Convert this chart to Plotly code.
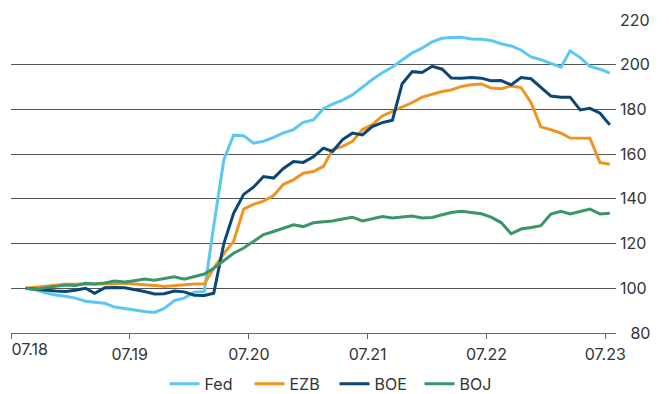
import pandas as pd
import plotly.graph_objects as go

# Monthly observations, index 100 at the start
dates = pd.date_range(start="2018-08-01", periods=60, freq="MS") + pd.Timedelta(days=14)

fed = [100.0, 99.2, 98.0, 97.0, 96.4, 95.6, 94.2, 93.8, 93.3, 91.6,
       90.9, 90.2, 89.6, 89.2, 91.0, 94.5, 95.6, 98.2, 98.6, 128.0,
       157.5, 168.5, 168.2, 164.9, 165.8, 167.5, 169.5, 171.0, 174.2, 175.3,
       180.3, 182.4, 184.2, 186.5, 190.1, 193.4, 196.4, 199.0, 202.1, 205.3,
       207.4, 210.2, 211.8, 212.2, 212.3, 211.5, 211.4, 210.8, 209.4, 208.4,
       206.6, 203.5, 202.3, 200.6, 198.9, 206.2, 203.2, 199.2, 198.0, 196.2]

ezb = [100.0, 100.5, 101.0, 101.3, 101.8, 101.8, 101.8, 101.8, 102.0, 102.0,
       102.2, 102.0, 101.8, 101.3, 100.8, 101.2, 101.6, 101.9, 102.0, 109.0,
       115.5, 121.0, 135.4, 137.5, 139.0, 141.5, 146.5, 148.5, 151.5, 152.2,
       154.5, 162.0, 163.5, 165.7, 171.0, 173.2, 177.1, 179.0, 181.0, 183.1,
       185.5, 186.9, 188.0, 188.7, 190.3, 191.0, 191.4, 189.6, 189.3, 190.5,
       189.8, 183.0, 172.2, 170.9, 169.4, 167.2, 167.1, 167.1, 156.2, 155.5]

boe = [100.0, 99.5, 99.1, 98.8, 98.6, 99.1, 100.0, 97.8, 100.2, 100.4,
       100.2, 99.5, 98.6, 97.5, 97.6, 98.8, 98.4, 96.9, 96.8, 97.8,
       120.0, 133.5, 142.0, 145.2, 150.0, 149.3, 153.6, 156.7, 156.3, 158.8,
       162.7, 161.2, 166.5, 169.4, 168.6, 172.3, 174.1, 175.2, 191.5, 196.9,
       196.5, 199.3, 198.0, 194.0, 193.9, 194.3, 194.0, 192.8, 192.9, 191.0,
       194.3, 193.7, 189.8, 186.0, 185.5, 185.5, 179.8, 180.5, 178.3, 173.1]

boj = [100.0, 99.5, 100.3, 101.0, 101.5, 101.3, 102.2, 101.9, 102.4, 103.3,
       102.8, 103.4, 104.1, 103.6, 104.5, 105.1, 104.1, 105.2, 106.4, 109.0,
       112.4, 115.7, 118.0, 121.0, 124.0, 125.4, 126.9, 128.4, 127.6, 129.3,
       129.8, 130.1, 131.0, 131.8, 130.1, 131.1, 132.1, 131.4, 131.8, 132.3,
       131.4, 131.7, 132.9, 133.9, 134.4, 133.9, 133.3, 131.8, 129.4, 124.4,
       126.5, 127.2, 128.0, 133.2, 134.4, 133.3, 134.4, 135.4, 133.2, 133.6]

series_names = ["Fed", "EZB", "BOE", "BOJ"]
series_values = [fed, ezb, boe, boj]
series_colors = ["#5bc8f2", "#ef951f", "#0b4675", "#3a9667"]

x_tick_dates = pd.date_range(start="2018-07-01", periods=6, freq="12MS")
x_tick_labels = ["07.18", "07.19", "07.20", "07.21", "07.22", "07.23"]
y_tick_values = [80, 100, 120, 140, 160, 180, 200, 220]

FS = "\u2007"  # figure space, right-aligns the shorter y labels
y_text = [(FS * (3 - len(str(v)))) + str(v) for v in y_tick_values]

x_range = ["2018-07-01", "2023-08-03"]
text_col = "#333333"
axis_col = "#666666"

fig = go.Figure()
for k, (name, vals, col) in enumerate(zip(series_names, series_values, series_colors)):
    fig.add_trace(go.Scatter(
        x=dates, y=vals, name=name, mode="lines",
        line=dict(color=col, width=3),
        # the last series sits on the overlay axis that carries the first date label
        xaxis="x2" if k == len(series_names) - 1 else "x",
    ))

font_family = "Inter, Roboto, sans-serif"
common_x = dict(
    range=x_range, showgrid=False, zeroline=False, automargin=False,
    ticks="outside", ticklen=5, tickcolor=axis_col, ticklabelstandoff=2,
    tickfont=dict(size=16, color=text_col),
)
fig.update_layout(
    width=669, height=394,
    margin=dict(l=11, r=53, t=20, b=61, autoexpand=False),
    paper_bgcolor="white", plot_bgcolor="white",
    font=dict(family=font_family, size=16, color=text_col),
    showlegend=True,
    legend=dict(
        orientation="h", xref="container", yref="container",
        x=0.5, xanchor="center", y=0.026, yanchor="middle",
        font=dict(size=16, color=text_col),
        entrywidth=40, entrywidthmode="pixels",
    ),
    xaxis=dict(
        **common_x,
        tickmode="array", tickvals=x_tick_dates,
        ticktext=[""] + x_tick_labels[1:],
        showline=True, linecolor=axis_col, linewidth=1,
    ),
    # first date label starts at its tick instead of being centred on it
    xaxis2=dict(
        **common_x,
        matches="x", overlaying="x", anchor="y", side="bottom",
        tickmode="array", tickvals=x_tick_dates[:1], ticktext=x_tick_labels[:1],
        ticklabelposition="outside right", showline=False,
    ),
    yaxis=dict(
        range=[80, 220], side="right", automargin=False,
        tickmode="array", tickvals=y_tick_values, ticktext=y_text,
        showgrid=True, gridcolor="#555555", gridwidth=1,
        zeroline=False, showline=False, ticks="",
        ticklabelstandoff=3,
        tickfont=dict(size=16, color=text_col),
    ),
)

fig.write_html("out.html")
